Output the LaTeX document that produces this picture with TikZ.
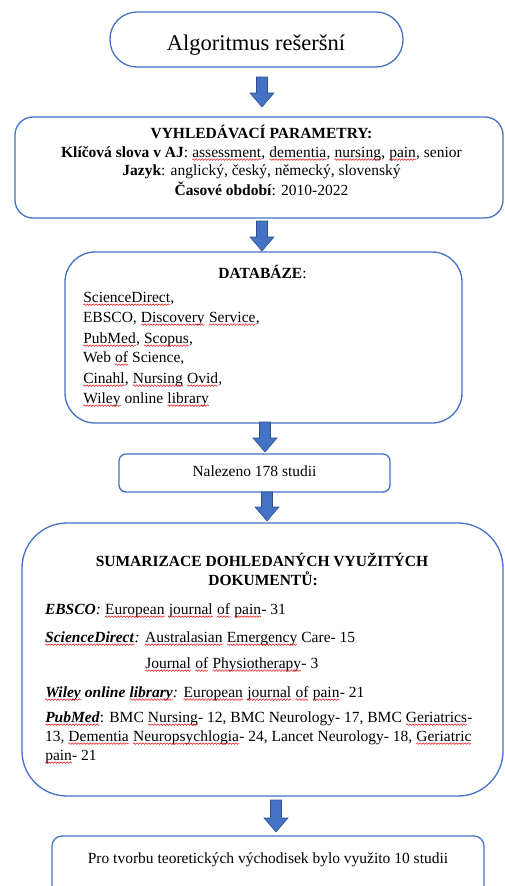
\documentclass[tikz,border=0pt]{standalone}
\usepackage{fontspec}
\setmainfont{Liberation Serif}
\usetikzlibrary{calc,decorations.pathmorphing}
\definecolor{boxline}{RGB}{68,114,196}
\definecolor{arrowfill}{RGB}{68,114,196}
\definecolor{arrowedge}{RGB}{47,82,143}
\definecolor{squig}{RGB}{230,20,20}
\newcommand\sq[1]{\tikz[baseline=(w.base)]{\node[inner sep=0pt,outer sep=0pt,anchor=base] (w) at (0,0) {#1};
  \draw[squig, line width=0.5pt, decorate, decoration={snake, segment length=3pt, amplitude=0.8pt}]
    ([yshift=-2.6pt]w.base west) -- ([yshift=-2.6pt]w.base east);}}
\newcommand\blockarrow[2]{%
  \path[blk] let \p1=(#1), \p2=(#2) in
    (\x1-5.5pt,\y1) -- (\x1+5.5pt,\y1) -- (\x1+5.5pt,\y2+14pt) -- (\x1+12pt,\y2+14pt)
    -- (\x1,\y2) -- (\x1-12pt,\y2+14pt) -- (\x1-5.5pt,\y2+14pt) -- cycle;}
\tikzset{
  box/.style={draw=boxline, line width=1.3pt, fill=white, inner sep=0pt, outer sep=0pt},
  txt/.style={inner sep=0pt, outer sep=0pt, font=\fontsize{15.5}{19}\selectfont},
  blk/.style={fill=arrowfill, draw=arrowedge, line width=0.6pt, line join=miter}
}
\begin{document}
\begin{tikzpicture}[x=1pt,y=-1pt]
\useasboundingbox[fill=white] (0,0) rectangle (504,886);
% boxes
\node[box, minimum width=293pt, minimum height=55pt, rounded corners=27pt] (b1) at (256.5,39.5) {};
\node[box, minimum width=488pt, minimum height=101pt, rounded corners=18pt] (b2) at (259,167.5) {};
\node[box, minimum width=397pt, minimum height=171pt, rounded corners=30pt] (b3) at (263.5,337.5) {};
\node[box, minimum width=271pt, minimum height=38pt, rounded corners=7pt] (b4) at (254.5,473) {};
\node[box, minimum width=481pt, minimum height=273pt, rounded corners=45pt] (b5) at (262.5,659.5) {};
\node[box, minimum width=432pt, minimum height=74pt, rounded corners=10pt] (b6) at (268,873) {};
% arrows
\blockarrow{[xshift=5.5pt,yshift=-10pt]b1.south}{[yshift=10pt]b2.north}
\blockarrow{[xshift=3pt,yshift=-3pt]b2.south}{[yshift=1pt]b3.north}
\blockarrow{[xshift=1.5pt,yshift=1pt]b3.south}{[yshift=2pt]b4.north}
\blockarrow{[xshift=12.5pt]b4.south}{[yshift=2pt]b5.north}
\blockarrow{[xshift=13.5pt,yshift=-4pt]b5.south}{[yshift=4pt]b6.north}
% texts
\node[txt, anchor=base, font=\fontsize{22.5}{26}\selectfont] (t1) at (256,50) {Algoritmus rešeršní};

\node[txt, anchor=base] (p1) at (261.5,138) {\textbf{VYHLEDÁVACÍ PARAMETRY:}};
\node[txt, anchor=base] (p2) at (261.5,157) {\textbf{Klíčová slova v AJ}: \sq{assessment}, \sq{dementia}, \sq{nursing}, \sq{pain}, senior};
\node[txt, anchor=base] (p3) at (261.5,175) {\textbf{Jazyk}: anglický, český, německý, slovenský};
\node[txt, anchor=base] (p4) at (261.5,195) {\textbf{Časové období}: 2010-2022};

\node[txt, anchor=base] (d0) at (262.5,278) {\textbf{DATABÁZE}:};
\node[txt, anchor=base west] (d1) at (83,302) {\sq{ScienceDirect},};
\node[txt, anchor=base west] (d2) at (83,322) {EBSCO, \sq{Discovery} \sq{Service},};
\node[txt, anchor=base west] (d3) at (83,343) {\sq{PubMed}, \sq{Scopus},};
\node[txt, anchor=base west] (d4) at (83,362) {Web \sq{of} Science,};
\node[txt, anchor=base west] (d5) at (83,383) {\sq{Cinahl}, \sq{Nursing} \sq{Ovid},};
\node[txt, anchor=base west] (d6) at (83,403) {\sq{Wiley} online \sq{library}};

\node[txt, anchor=base] (n1) at (254.5,476) {Nalezeno 178 studii};

\node[txt, anchor=base] (s1) at (262,566) {\textbf{SUMARIZACE DOHLEDANÝCH VYUŽITÝCH}};
\node[txt, anchor=base] (s2) at (263,585) {\textbf{DOKUMENTŮ:}};
\node[txt, anchor=base west] (s3) at (45,614) {\textbf{\textit{EBSCO}}\textit{:} \sq{European} \sq{journal} \sq{of} \sq{pain}- 31};
\node[txt, anchor=base west] (s4) at (45,642) {\sq{\textbf{\textit{ScienceDirect}}}\textit{:} \sq{Australasian} \sq{Emergency} Care- 15};
\node[txt, anchor=base west] (s5) at (145,668) {\sq{Journal} \sq{of} \sq{Physiotherapy}- 3};
\node[txt, anchor=base west] (s6) at (45,697) {\sq{\textbf{\textit{Wiley}}} \textbf{\textit{online}} \sq{\textbf{\textit{library}}}\textit{:} \sq{European} \sq{journal} \sq{of} \sq{pain}- 21};
\node[txt, anchor=base west] (s7) at (45,722) {\sq{\textbf{\textit{PubMed}}}: BMC \sq{Nursing}- 12, BMC Neurology- 17, BMC \sq{Geriatrics}-};
\node[txt, anchor=base west] (s8) at (45,741) {13, \sq{Dementia} \sq{Neuropsychlogia}- 24, Lancet Neurology- 18, \sq{Geriatric}};
\node[txt, anchor=base west] (s9) at (45,760) {\sq{pain}- 21};

\node[txt, anchor=base] (f1) at (268,863) {Pro tvorbu teoretických východisek bylo využito 10 studii};
\end{tikzpicture}
\end{document}
